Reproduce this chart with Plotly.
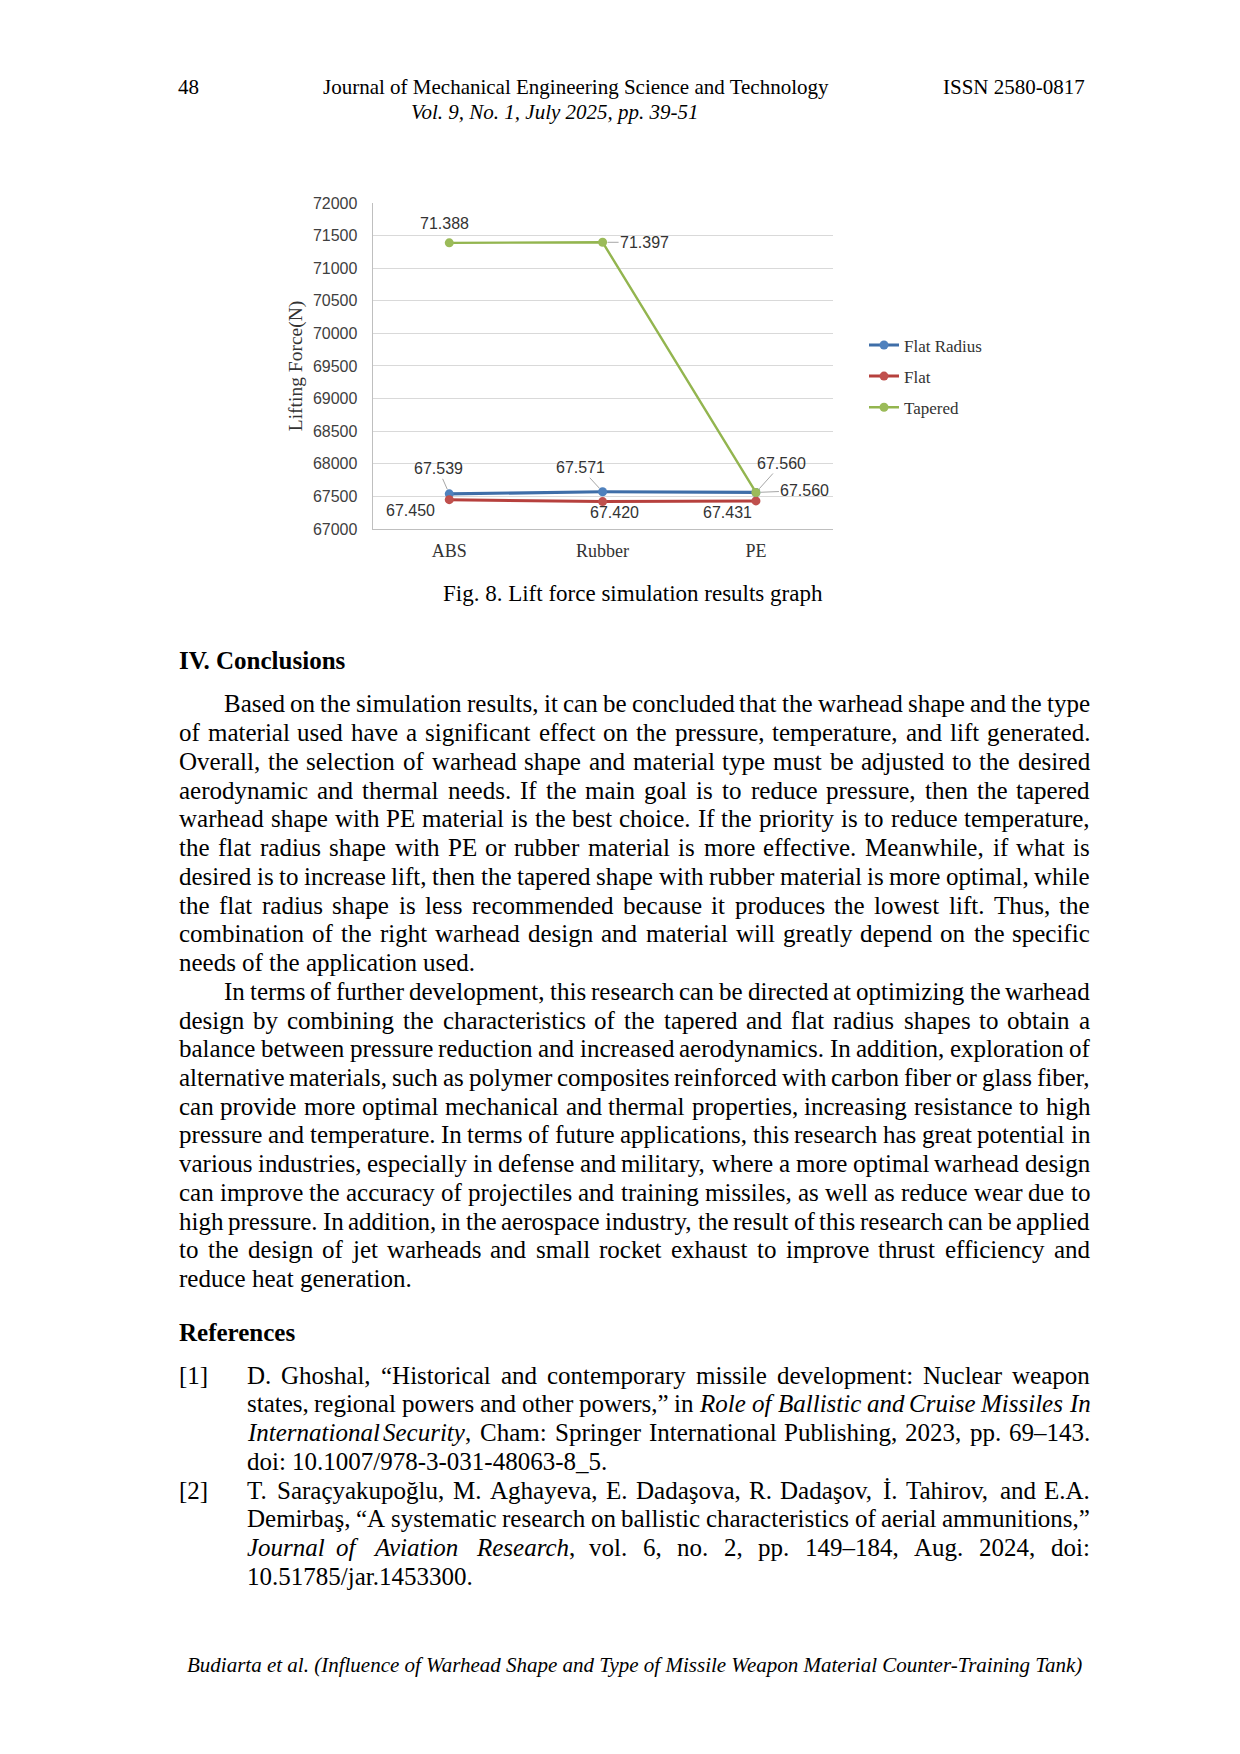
import plotly.graph_objects as go

W, H = 1240, 1754

materials = ['ABS', 'Rubber', 'PE']
flat_radius = [67539, 67571, 67560]
flat = [67450, 67420, 67431]
tapered = [71388, 71397, 67560]
series_names = ['Flat Radius', 'Flat', 'Tapered']
y_ticks = [67000, 67500, 68000, 68500, 69000, 69500, 70000, 70500, 71000, 71500, 72000]

line_colors = ['#3F6EA8', '#B6403D', '#93B54F']
marker_colors = ['#4F81BD', '#C0504D', '#9BBB59']
line_widths = [3.2, 3, 2.4]

# label offsets in px (dx, dy, leader line) for each series / point
label_offsets = [
    [(-11, -25, True), (-22, -24, True), (26, -29, True)],
    [(-39, 11, False), (12, 11, False), (-28, 12, False)],
    [(-5, -19, False), (42, 0, True), (49, -2, True)],
]

header_left = '48'
header_title = 'Journal of Mechanical Engineering Science and Technology'
header_issn = 'ISSN 2580-0817'
header_vol = 'Vol. 9, No. 1, July 2025, pp. 39-51'
caption = 'Fig. 8. Lift force simulation results graph'
heading1 = 'IV. Conclusions'
heading2 = 'References'
footer = 'Budiarta et al. (Influence of Warhead Shape and Type of Missile Weapon Material Counter-Training Tank)'

para1 = [
    'Based on the simulation results, it can be concluded that the warhead shape and the type',
    'of material used have a significant effect on the pressure, temperature, and lift generated.',
    'Overall, the selection of warhead shape and material type must be adjusted to the desired',
    'aerodynamic and thermal needs. If the main goal is to reduce pressure, then the tapered',
    'warhead shape with PE material is the best choice. If the priority is to reduce temperature,',
    'the flat radius shape with PE or rubber material is more effective. Meanwhile, if what is',
    'desired is to increase lift, then the tapered shape with rubber material is more optimal, while',
    'the flat radius shape is less recommended because it produces the lowest lift. Thus, the',
    'combination of the right warhead design and material will greatly depend on the specific',
    'needs of the application used.',
]
para2 = [
    'In terms of further development, this research can be directed at optimizing the warhead',
    'design by combining the characteristics of the tapered and flat radius shapes to obtain a',
    'balance between pressure reduction and increased aerodynamics. In addition, exploration of',
    'alternative materials, such as polymer composites reinforced with carbon fiber or glass fiber,',
    'can provide more optimal mechanical and thermal properties, increasing resistance to high',
    'pressure and temperature. In terms of future applications, this research has great potential in',
    'various industries, especially in defense and military, where a more optimal warhead design',
    'can improve the accuracy of projectiles and training missiles, as well as reduce wear due to',
    'high pressure. In addition, in the aerospace industry, the result of this research can be applied',
    'to the design of jet warheads and small rocket exhaust to improve thrust efficiency and',
    'reduce heat generation.',
]
ref1 = [
    'D. Ghoshal, “Historical and contemporary missile development: Nuclear weapon',
    'states, regional powers and other powers,” in <i>Role of Ballistic and Cruise Missiles In</i>',
    '<i>International Security</i>, Cham: Springer International Publishing, 2023, pp. 69–143.',
    'doi: 10.1007/978-3-031-48063-8_5.',
]
ref2 = [
    'T. Saraçyakupoğlu, M. Aghayeva, E. Dadaşova, R. Dadaşov, İ. Tahirov, and E.A.',
    'Demirbaş, “A systematic research on ballistic characteristics of aerial ammunitions,”',
    '<i>Journal of Aviation Research</i>, vol. 6, no. 2, pp. 149–184, Aug. 2024, doi:',
    '10.51785/jar.1453300.',
]

# Times / Liberation Serif advance widths (per 1000 em)
tw = {' ': 250, '.': 250, ',': 250, ':': 278, ';': 278, '-': 333, '(': 333, ')': 333,
      '“': 444, '”': 444, '/': 278, '_': 500, '–': 500, "'": 333, '[': 333, ']': 333,
      'a': 444, 'b': 500, 'c': 444, 'd': 500, 'e': 444, 'f': 333, 'g': 500, 'h': 500,
      'i': 278, 'j': 278, 'k': 500, 'l': 278, 'm': 778, 'n': 500, 'o': 500, 'p': 500,
      'q': 500, 'r': 333, 's': 389, 't': 278, 'u': 500, 'v': 500, 'w': 722, 'x': 500,
      'y': 500, 'z': 444, 'A': 722, 'B': 667, 'C': 667, 'D': 722, 'E': 611, 'F': 556,
      'G': 722, 'H': 722, 'I': 333, 'J': 389, 'K': 722, 'L': 611, 'M': 889, 'N': 722,
      'O': 722, 'P': 556, 'Q': 722, 'R': 667, 'S': 556, 'T': 611, 'U': 722, 'V': 722,
      'W': 944, 'X': 722, 'Y': 722, 'Z': 611, 'ç': 444, 'ğ': 500, 'ş': 389, 'İ': 333}


def text_width(s, size):
    s = s.replace('<i>', '').replace('</i>', '')
    return sum(tw.get(c, 500) for c in s) / 1000 * size


fig = go.Figure()

for i, (name, vals) in enumerate(zip(series_names, [flat_radius, flat, tapered])):
    fig.add_trace(go.Scatter(
        x=materials, y=vals, name=name, mode='lines+markers', legendgroup=name,
        line=dict(color=line_colors[i], width=line_widths[i]),
        marker=dict(color=marker_colors[i], size=9)))
    for j, v in enumerate(vals):
        dx, dy, leader = label_offsets[i][j]
        lbl = f'{v / 1000:.3f}'
        if leader:
            fig.add_annotation(x=materials[j], y=v, text=lbl, showarrow=True, ax=dx, ay=dy,
                               arrowhead=0, arrowwidth=1, arrowcolor='#A6A6A6', standoff=5,
                               font=dict(family='Liberation Sans', size=16, color='#333333'))
        else:
            fig.add_annotation(x=materials[j], y=v, text=lbl, showarrow=False,
                               xshift=dx, yshift=-dy,
                               font=dict(family='Liberation Sans', size=16, color='#333333'))


def page_text(text, px, py, size=25, anchor='left', bold=False, italic=False):
    if bold:
        text = '<b>' + text + '</b>'
    if italic:
        text = '<i>' + text + '</i>'
    fig.add_annotation(text=text, x=px / W, y=1 - py / H, xref='paper', yref='paper',
                       xanchor=anchor, yanchor='middle', showarrow=False,
                       font=dict(family='Liberation Serif', size=size, color='black'))


def justify(line, py, x0, x1, size=25, last=False):
    words = line.split(' ')
    out = []
    state = False
    for w in words:
        raw = w
        if state and not raw.startswith('<i>'):
            raw = '<i>' + raw
        if '<i>' in w:
            state = True
        if '</i>' in w:
            state = False
        if state:
            raw = raw + '</i>'
        out.append(raw)
    widths = [text_width(w, size) for w in out]
    if last or len(out) == 1:
        gap = 0.25 * size
    else:
        gap = (x1 - x0 - sum(widths)) / (len(out) - 1)
    x = x0
    for w, wd in zip(out, widths):
        page_text(w, x, py, size)
        x += wd + gap


# header
page_text(header_left, 168, 72, 21)
page_text(header_title, 568, 72, 21, anchor='center')
page_text(header_issn, 1079, 72, 21, anchor='right')
page_text(header_vol, 547, 97, 21, anchor='center', italic=True)

page_text(caption, 625, 583.5, 23, anchor='center')
page_text(heading1, 169, 651, 25, bold=True)

left, right, indent = 169, 1080, 214
y0, step = 694.5, 29.03
row = 0
for para in [para1, para2]:
    for k, line in enumerate(para):
        justify(line, y0 + row * step, indent if k == 0 else left, right, 25, last=(k == len(para) - 1))
        row += 1

page_text(heading2, 169, 1329, 25, bold=True)
ry0, rstep = 1372.5, 29.0
row = 0
for num, ref in [('[1]', ref1), ('[2]', ref2)]:
    page_text(num, 169, ry0 + row * rstep, 25)
    for k, line in enumerate(ref):
        justify(line, ry0 + row * rstep, 237, right, 25, last=(k == len(ref) - 1))
        row += 1

page_text(footer, 626, 1665, 21, anchor='center', italic=True)

fig.update_layout(
    width=W, height=H, autosize=False,
    margin=dict(l=0, r=0, t=0, b=0),
    paper_bgcolor='white', plot_bgcolor='white',
    showlegend=True,
    legend=dict(x=856 / W, y=1 - 314.5 / H, xanchor='left', yanchor='top',
                traceorder='grouped', tracegroupgap=6,
                font=dict(family='Liberation Serif', size=17, color='#333333'),
                bgcolor='rgba(0,0,0,0)'),
    xaxis=dict(domain=[364.6 / W, 824.6 / W], range=[-0.5, 2.5], showgrid=False, showline=True,
               linecolor='#BFBFBF', linewidth=1, ticks='', ticklabelstandoff=5,
               tickfont=dict(family='Liberation Serif', size=18, color='#333333')),
    yaxis=dict(domain=[1 - 518 / H, 1 - 188.8 / H], range=[67000, 72000],
               tickvals=y_ticks, tickformat='d', showgrid=True, gridcolor='#D9D9D9',
               gridwidth=1, showline=True, linecolor='#BFBFBF', linewidth=1, ticks='',
               zeroline=False, ticklabelstandoff=11,
               tickfont=dict(family='Liberation Sans', size=16, color='#404040'),
               title=dict(text='Lifting Force(N)', standoff=5,
                          font=dict(family='Liberation Serif', size=19.5, color='#333333'))),
)

fig.write_html('out.html')
